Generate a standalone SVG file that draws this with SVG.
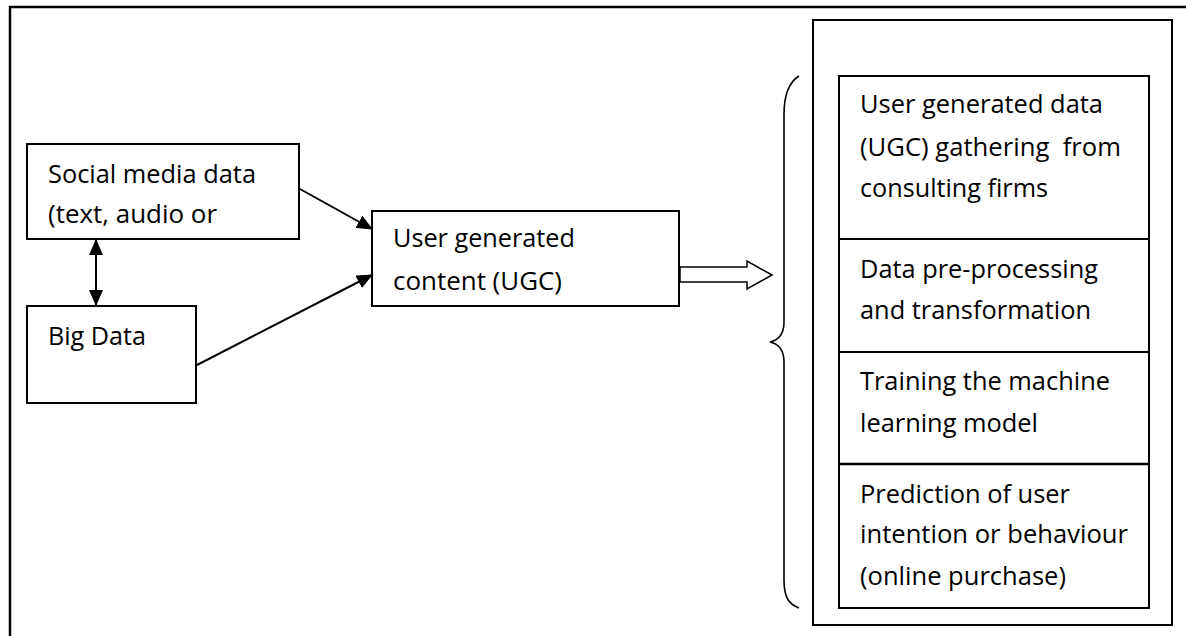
<svg xmlns="http://www.w3.org/2000/svg" width="1186" height="636" viewBox="0 0 1186 636">
<style>
.box{fill:#fff;stroke:#000;stroke-width:2}
.t{font-family:"Open Sans","Liberation Sans",sans-serif;font-size:25px;fill:#000}
.c{stroke:#000;stroke-width:2;fill:none}
</style>
<defs>
<marker id="ah" markerUnits="userSpaceOnUse" markerWidth="16" markerHeight="14" refX="15" refY="7" orient="auto-start-reverse" viewBox="0 0 16 14">
<path d="M0,0 L16,7 L0,14 Z" fill="#000"/>
</marker>
</defs>
<rect width="1186" height="636" fill="#fff"/>
<g id="frame">
<path d="M10,636 V7 H1186" fill="none" stroke="#000" stroke-width="2.5"/>
</g>
<g id="social">
<rect class="box" x="27" y="144" width="272" height="95"/>
<text class="t" x="48" y="183" textLength="208" lengthAdjust="spacingAndGlyphs">Social media data</text>
<text class="t" x="48" y="223" textLength="169" lengthAdjust="spacingAndGlyphs">(text, audio or</text>
</g>
<g id="bigdata">
<rect class="box" x="27" y="306" width="169" height="97"/>
<text class="t" x="48" y="345" textLength="98" lengthAdjust="spacingAndGlyphs">Big Data</text>
</g>
<g id="ugc">
<rect class="box" x="372" y="211" width="307" height="95"/>
<text class="t" x="393" y="247" textLength="182" lengthAdjust="spacingAndGlyphs">User generated</text>
<text class="t" x="393" y="290" textLength="169" lengthAdjust="spacingAndGlyphs">content (UGC)</text>
</g>
<g id="pipeline">
<rect class="box" x="813" y="20" width="359" height="605"/>
<rect class="box" x="839" y="76" width="310" height="532"/>
<line class="c" x1="839" y1="239" x2="1149" y2="239"/>
<line class="c" x1="839" y1="352" x2="1149" y2="352"/>
<line x1="839" y1="464" x2="1149" y2="464" stroke="#000" stroke-width="2.5"/>
<text class="t" x="860" y="113" textLength="243" lengthAdjust="spacingAndGlyphs">User generated data</text>
<text class="t" x="860" y="156" textLength="261" lengthAdjust="spacingAndGlyphs" xml:space="preserve">(UGC) gathering  from</text>
<text class="t" x="860" y="197" textLength="188" lengthAdjust="spacingAndGlyphs">consulting firms</text>
<text class="t" x="860" y="278" textLength="238" lengthAdjust="spacingAndGlyphs">Data pre-processing</text>
<text class="t" x="860" y="319" textLength="231" lengthAdjust="spacingAndGlyphs">and transformation</text>
<text class="t" x="860" y="390" textLength="250" lengthAdjust="spacingAndGlyphs">Training the machine</text>
<text class="t" x="860" y="432" textLength="178" lengthAdjust="spacingAndGlyphs">learning model</text>
<text class="t" x="860" y="503" textLength="210" lengthAdjust="spacingAndGlyphs">Prediction of user</text>
<text class="t" x="860" y="543" textLength="268" lengthAdjust="spacingAndGlyphs">intention or behaviour</text>
<text class="t" x="860" y="585" textLength="206" lengthAdjust="spacingAndGlyphs">(online purchase)</text>
</g>
<g id="connectors">
<line class="c" x1="96" y1="240" x2="96" y2="305" marker-start="url(#ah)" marker-end="url(#ah)"/>
<line class="c" x1="300" y1="189" x2="372" y2="229" marker-end="url(#ah)"/>
<line class="c" x1="197" y1="365" x2="372" y2="275" marker-end="url(#ah)"/>
<polygon points="680,267 747,267 747,261 772,275 747,289 747,282 680,282" fill="#fff" stroke="#000" stroke-width="1.5"/>
<path d="M799,76 C789,82 784,95 784,115 V322 C784,334 779,340 770,342 C779,344 784,350 784,362 V580 C784,598 789,604 799,608" fill="none" stroke="#000" stroke-width="1.6"/>
</g>
</svg>
